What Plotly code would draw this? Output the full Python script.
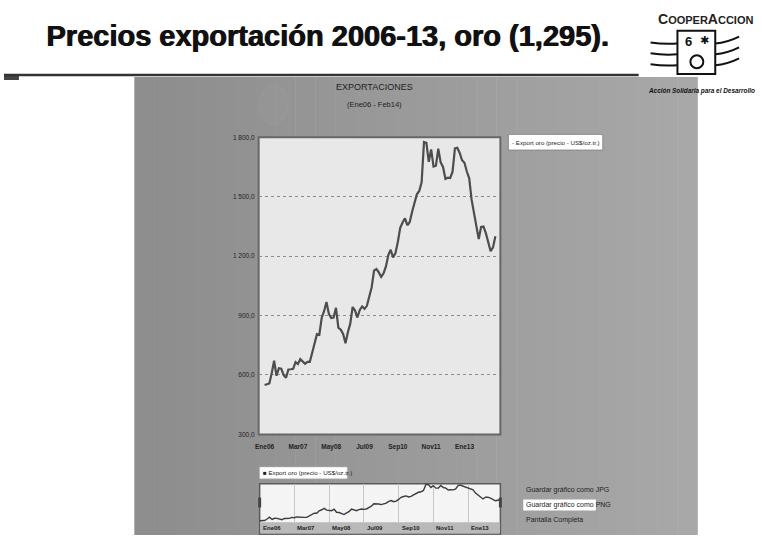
import plotly.graph_objects as go

# Monthly gold export price, US$/oz.tr, Jan 2006 - Feb 2014
meses = [
    "Ene06", "Feb06", "Mar06", "Abr06", "May06", "Jun06", "Jul06", "Ago06", "Sep06", "Oct06", "Nov06", "Dic06",
    "Ene07", "Feb07", "Mar07", "Abr07", "May07", "Jun07", "Jul07", "Ago07", "Sep07", "Oct07", "Nov07", "Dic07",
    "Ene08", "Feb08", "Mar08", "Abr08", "May08", "Jun08", "Jul08", "Ago08", "Sep08", "Oct08", "Nov08", "Dic08",
    "Ene09", "Feb09", "Mar09", "Abr09", "May09", "Jun09", "Jul09", "Ago09", "Sep09", "Oct09", "Nov09", "Dic09",
    "Ene10", "Feb10", "Mar10", "Abr10", "May10", "Jun10", "Jul10", "Ago10", "Sep10", "Oct10", "Nov10", "Dic10",
    "Ene11", "Feb11", "Mar11", "Abr11", "May11", "Jun11", "Jul11", "Ago11", "Sep11", "Oct11", "Nov11", "Dic11",
    "Ene12", "Feb12", "Mar12", "Abr12", "May12", "Jun12", "Jul12", "Ago12", "Sep12", "Oct12", "Nov12", "Dic12",
    "Ene13", "Feb13", "Mar13", "Abr13", "May13", "Jun13", "Jul13", "Ago13", "Sep13", "Oct13", "Nov13", "Dic13",
    "Ene14", "Feb14",
]
precio_oro = [
    549, 555, 557, 610, 672, 596, 634, 632, 599, 586, 628, 629,
    631, 665, 655, 680, 667, 656, 666, 666, 712, 754, 806, 803,
    889, 922, 968, 909, 888, 890, 939, 839, 829, 807, 760, 816,
    859, 943, 925, 890, 928, 946, 934, 949, 996, 1043, 1127, 1135,
    1118, 1095, 1113, 1148, 1205, 1232, 1193, 1215, 1271, 1343, 1370, 1391,
    1356, 1372, 1424, 1474, 1512, 1529, 1573, 1776, 1772, 1676, 1739, 1652,
    1656, 1742, 1673, 1650, 1590, 1596, 1594, 1626, 1744, 1747, 1721, 1684,
    1671, 1627, 1593, 1485, 1414, 1343, 1286, 1347, 1349, 1316, 1275, 1225,
    1244, 1300,
]
etiquetas_x = ["Ene06", "Mar07", "May08", "Jul09", "Sep10", "Nov11", "Ene13"]
valores_y = [300, 600, 900, 1200, 1500, 1800]
etiquetas_y = ["300,0", "600,0", "900,0", "1 200,0", "1 500,0", "1 800,0"]
serie = "Export oro (precio - US$/oz.tr.)"

W, H = 762, 545
idx = list(range(len(precio_oro)))
pos_ticks = [meses.index(m) for m in etiquetas_x]


def px(x):
    return x / W


def py(y):
    return 1 - y / H


NARROW = "Liberation Sans Narrow, Liberation Sans, Arial"
shapes = []
annotations = []


def rect(x0, y0, x1, y1, fill, line_color=None, line_width=0, layer="below"):
    shapes.append(dict(type="rect", xref="paper", yref="paper",
                       x0=px(x0), x1=px(x1), y0=py(y1), y1=py(y0),
                       fillcolor=fill, layer=layer,
                       line=dict(color=line_color or fill, width=line_width)))


def text(x, y, s, size=8, color="#222", xanchor="center", family=NARROW, **kw):
    annotations.append(dict(x=px(x), y=py(y), xref="paper", yref="paper", text=s,
                            showarrow=False, xanchor=xanchor, yanchor="middle",
                            font=dict(size=size, color=color, family=family), **kw))


# gray application panel with a soft left-to-right gradient
x_left, x_right = 131, 697
n = 28
for i in range(n):
    t = i / (n - 1)
    g = int(0x8e + (0xa8 - 0x8e) * t)
    xa = x_left + (x_right - x_left) * i / n
    xb = x_left + (x_right - x_left) * (i + 1) / n + 0.5
    rect(xa, 74, xb, 538, f"rgb({g},{g},{g})")

# faint emblem behind the chart title
shapes.append(dict(type="circle", xref="paper", yref="paper",
                   x0=px(257), x1=px(285), y0=py(122), y1=py(82),
                   fillcolor="rgba(255,255,255,0.02)", line=dict(color="rgba(255,255,255,0.05)", width=1),
                   layer="below"))

# slide rule under the heading
shapes.append(dict(type="line", xref="paper", yref="paper", x0=0, x1=px(638), y0=py(72), y1=py(72),
                   line=dict(color="#333", width=2.5)))
rect(0, 72, 15, 77, "#444")

# plot area frames
rect(256, 135, 499, 436, "#e8e8e8", "#676767", 2)
rect(257, 486, 499, 537, "#f4f4f4", "#5a5a5a", 1.5)
rect(258, 525, 498, 536.5, "#b9b9b9")

# legend boxes
rect(507, 132, 602, 148, "#ffffff", "#888", 1)
text(509, 140, "- " + serie, size=6.2, xanchor="left")
rect(257, 469, 345, 481, "#ffffff", "#bbb", 0.5)
text(258, 475, "■ " + serie, size=6.2, xanchor="left")

# chart titles
text(372, 84, "EXPORTACIONES", size=9, color="#1e1e1e")
text(372, 102, "(Ene06 - Feb14)", size=7.5, color="#1e1e1e")

# actions on the right
text(523, 492, "Guardar gráfico como JPG", size=7, xanchor="left")
rect(522, 502, 595, 513, "#ffffff", "#ffffff", 0, layer="below")
text(523, 508, "Guardar gráfico como PNG", size=7, xanchor="left")
text(523, 523, "Pantalla Completa", size=7, xanchor="left")

# slide heading, drawn twice with a small offset for a heavier stroke
for dx in (0, 0.8):
    text(325, 32, "<b>Precios exportación 2006-13, oro (1,295).</b>", size=29, color="#111",
         family="Liberation Sans, Arial", xshift=dx)

# organisation logo
text(705, 15, "<b>C<span style='font-size:11px'>OOPER</span>A<span style='font-size:11px'>CCION</span></b>",
     size=14, color="#222", family="Liberation Sans, Arial")
rect(677, 27, 715, 71, "rgba(0,0,0,0)", "#111", 2, layer="above")
for yl, yr in [(40, 38), (51, 49), (62, 60)]:
    shapes.append(dict(type="path", xref="paper", yref="paper",
                       path=f"M {px(650)},{py(yl - 1)} Q {px(663)},{py(yl + 1)} {px(677)},{py(yl)}",
                       line=dict(color="#111", width=2)))
    shapes.append(dict(type="path", xref="paper", yref="paper",
                       path=f"M {px(715)},{py(yr + 2)} Q {px(727)},{py(yr + 1)} {px(739)},{py(yr - 5)}",
                       line=dict(color="#111", width=2)))
shapes.append(dict(type="circle", xref="paper", yref="paper",
                   x0=px(690), x1=px(703), y0=py(65), y1=py(52), line=dict(color="#111", width=2)))
text(688, 38, "<b>6</b>", size=13, color="#111", family="Liberation Sans, Arial")
text(704, 37, "<b>✱</b>", size=11, color="#111", family="DejaVu Sans")
text(645, 88, "<b><i>Acción Solidaria para el Desarrollo</i></b>", size=6.4, color="#111",
     xanchor="left", family=NARROW)

# navigator handles and labels
for hx in (257, 499):
    shapes.append(dict(type="rect", xref="paper", yref="paper",
                       x0=px(hx - 1.5), x1=px(hx + 1.5), y0=py(510), y1=py(500),
                       fillcolor="#444", line=dict(color="#444", width=0), layer="above"))
for p, lab in zip(pos_ticks, etiquetas_x):
    annotations.append(dict(x=p, y=py(531), xref="x2", yref="paper", yanchor="middle",
                            text="<b>" + lab + "</b>", showarrow=False, xanchor="left",
                            xshift=1, font=dict(size=6, color="#222", family=NARROW)))

fig = go.Figure()
fig.add_trace(go.Scatter(x=idx, y=precio_oro, mode="lines", xaxis="x", yaxis="y",
                         line=dict(color="#4d4d4d", width=2.2), showlegend=False, hoverinfo="skip"))
fig.add_trace(go.Scatter(x=idx, y=precio_oro, mode="lines", xaxis="x2", yaxis="y2",
                         line=dict(color="#3c3c3c", width=1.4), showlegend=False, hoverinfo="skip"))

fig.update_layout(
    width=W, height=H, margin=dict(l=0, r=0, t=0, b=0),
    paper_bgcolor="#ffffff", plot_bgcolor="rgba(0,0,0,0)",
    shapes=shapes, annotations=annotations,
    xaxis=dict(domain=[px(256), px(499)], range=[-2.5, 99.1], anchor="y",
               tickvals=pos_ticks, ticktext=["<b>" + t + "</b>" for t in etiquetas_x],
               showgrid=False, zeroline=False,
               ticks="", tickfont=dict(size=6.5, color="#222", family=NARROW), ticklabelstandoff=7),
    yaxis=dict(domain=[py(436), py(135)], range=[300, 1800], anchor="x",
               tickvals=valores_y, ticktext=etiquetas_y, showgrid=True,
               gridcolor="#8c8c8c", griddash="dot", gridwidth=1, zeroline=False,
               ticks="", tickfont=dict(size=6.5, color="#222", family=NARROW), ticklabelstandoff=3),
    xaxis2=dict(domain=[px(257), px(499)], range=[0, 97], anchor="y2",
                tickvals=pos_ticks[1:], showticklabels=False, showgrid=True,
                gridcolor="#c8c8c8", gridwidth=1, zeroline=False, ticks=""),
    yaxis2=dict(domain=[py(525), py(486)], range=[500, 1800], anchor="x2",
                showticklabels=False, showgrid=False, zeroline=False, ticks=""),
)

fig.write_html("out.html")
